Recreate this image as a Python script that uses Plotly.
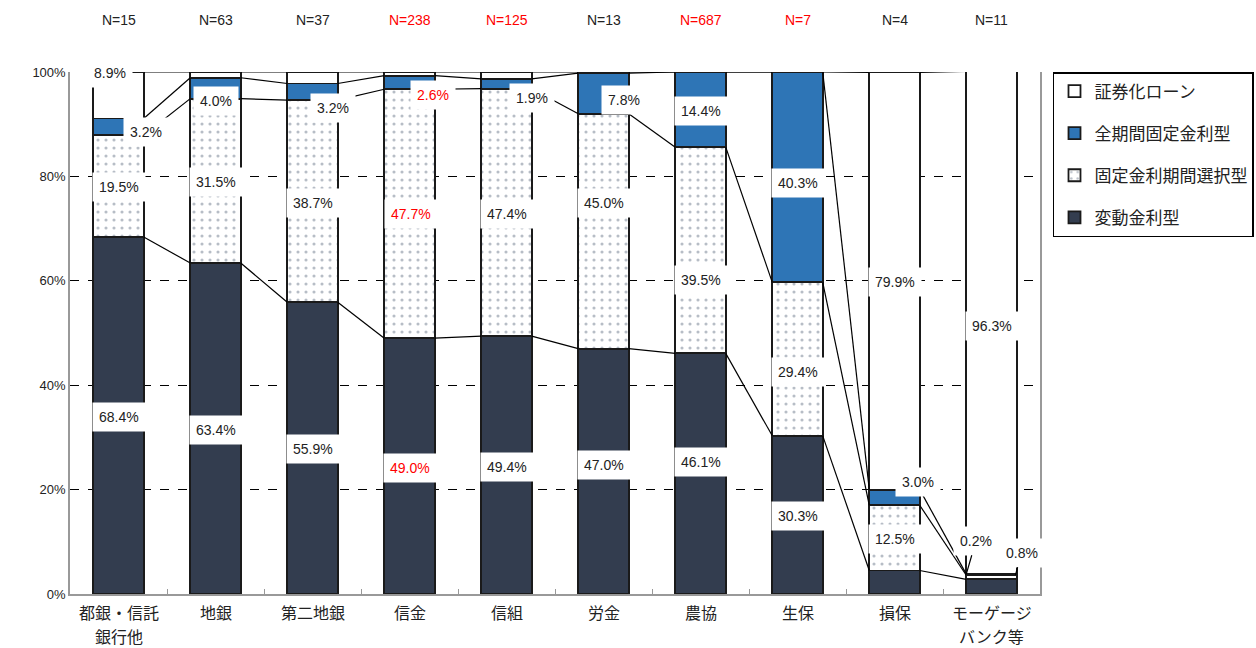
import plotly.graph_objects as go

# ------------------------------------------------------------------
# data
# ------------------------------------------------------------------
categories = ["都銀・信託\n銀行他", "地銀", "第二地銀", "信金", "信組",
              "労金", "農協", "生保", "損保", "モーゲージ\nバンク等"]
n_labels = ["N=15", "N=63", "N=37", "N=238", "N=125",
            "N=13", "N=687", "N=7", "N=4", "N=11"]
n_red = [False, False, False, True, True, False, True, True, False, False]

hendo = [68.4, 63.4, 55.9, 49.0, 49.4, 47.0, 46.1, 30.3, 4.5, 2.8]      # 変動金利型
sentaku = [19.5, 31.5, 38.7, 47.7, 47.4, 45.0, 39.5, 29.4, 12.5, 0.8]  # 固定金利期間選択型
zenkikan = [3.2, 4.0, 3.2, 2.6, 1.9, 7.8, 14.4, 40.3, 3.0, 0.2]       # 全期間固定金利型
shoken = [8.9, 1.1, 2.2, 0.7, 1.3, 0.2, 0.0, 0.0, 79.9, 96.3]         # 証券化ローン
red_idx = {"hendo": [3], "sentaku": [3], "zenkikan": [3], "shoken": []}

y_ticks = [0, 20, 40, 60, 80, 100]

# ------------------------------------------------------------------
# label placement (x offset in categories, y in %), None = no label
# ------------------------------------------------------------------
label_pos = {
    "hendo": [(0, 33.9), (0, 31.4), (0, 27.8), (0, 24.1), (0, 24.3),
              (0, 24.7), (0, 25.3), (0, 14.9), (0.03, -0.8), (0.48, -0.6)],
    "sentaku": [(0, 78.0), (0, 78.9), (0, 74.9), (0.02, 72.8), (0, 72.8),
                (0, 74.9), (0, 60.2), (0, 42.5), (0, 10.5), (0.31, 7.9)],
    "zenkikan": [(0.28, 88.5), (0, 94.4), (0.21, 93.1), (0.24, 95.6), (0.26, 95.0),
                 (0.21, 94.6), (0, 92.5), (0, 78.7), (0.24, 21.5), (-0.16, 10.2)],
    "shoken": [(-0.09, 99.8), (0, 101.9), (0, 101.9), (0, 101.1), (0.01, 101.9),
               (0.39, 100.2), None, None, (0, 59.8), (0, 51.3)],
}
leaders = {("sentaku", 9), ("zenkikan", 9)}

DARK = "#333D4F"
BLUE = "#2E75B6"
EDGE = "#1a1a1a"
TXT = "#222222"
RED = "#FF0000"
NUMFONT = "Liberation Sans, Arial, sans-serif"
JPFONT = "Noto Sans CJK JP, sans-serif"
HW = 0.26  # half bar width

xs = list(range(len(categories)))

fig = go.Figure()
fig.add_trace(go.Bar(x=xs, y=hendo, name="変動金利型", width=2 * HW,
                     marker=dict(color=DARK, line=dict(color=EDGE, width=1.8)),
                     legendgroup="a", legendrank=4))
fig.add_trace(go.Bar(x=xs, y=sentaku, name="固定金利期間選択型", width=2 * HW,
                     marker=dict(color="white", line=dict(color=EDGE, width=1.8),
                                 pattern=dict(shape=".", fgcolor="#6f7c8e", bgcolor="white",
                                              size=8, solidity=0.12)),
                     legendgroup="b", legendrank=3))
fig.add_trace(go.Bar(x=xs, y=zenkikan, name="全期間固定金利型", width=2 * HW,
                     marker=dict(color=BLUE, line=dict(color=EDGE, width=1.8)),
                     legendgroup="c", legendrank=2))
fig.add_trace(go.Bar(x=xs, y=shoken, name="証券化ローン", width=2 * HW,
                     marker=dict(color="white", line=dict(color=EDGE, width=1.8)),
                     legendgroup="d", legendrank=1))

# series lines between neighbouring bars
series = [("hendo", hendo), ("sentaku", sentaku), ("zenkikan", zenkikan), ("shoken", shoken)]
cum = []
run = [0.0] * len(xs)
for key, vals in series:
    run = [r + v for r, v in zip(run, vals)]
    cum.append((key, list(run)))

for key, tops in cum:
    for i in range(len(xs) - 1):
        fig.add_shape(type="line", xref="x", yref="y", layer="above",
                      x0=xs[i] + HW, y0=tops[i], x1=xs[i + 1] - HW, y1=tops[i + 1],
                      line=dict(color="black", width=1.2))

# data labels
tops_by_key = dict(cum)
for key, vals in series:
    for i, v in enumerate(vals):
        pos = label_pos[key][i]
        if pos is None:
            continue
        dx, ly = pos
        color = RED if i in red_idx[key] else TXT
        common = dict(text=f"{v:.1f}%", font=dict(family=NUMFONT, size=14, color=color),
                      bgcolor="white", borderpad=6, xref="x", yref="y")
        if (key, i) in leaders:
            px = xs[i] - HW if dx < 0 else xs[i] + HW * 0.95
            fig.add_annotation(x=px, y=tops_by_key[key][i], ax=xs[i] + dx, ay=ly,
                               axref="x", ayref="y", showarrow=True, arrowhead=0,
                               arrowwidth=1.2, arrowcolor="black", standoff=0,
                               **common)
        else:
            fig.add_annotation(x=xs[i] + dx, y=ly, showarrow=False, **common)

# N counts above the bars
for i, t in enumerate(n_labels):
    fig.add_annotation(x=xs[i], y=1, xref="x", yref="paper", yshift=52, yanchor="middle",
                       text=t, showarrow=False,
                       font=dict(family=NUMFONT, size=14, color=RED if n_red[i] else TXT))

# category names under the axis (one annotation per line, Excel-like spacing)
for i, name in enumerate(categories):
    for k, line in enumerate(name.split("\n")):
        fig.add_annotation(x=xs[i], y=0, xref="x", yref="paper", yshift=-18 - 24 * k,
                           yanchor="middle", text=line, showarrow=False,
                           font=dict(family=JPFONT, size=16, color=TXT))

fig.update_layout(
    width=1256, height=648,
    margin=dict(l=70, r=216, t=72, b=54, autoexpand=False),
    barmode="stack",
    plot_bgcolor="white",
    paper_bgcolor="white",
    showlegend=True,
    legend=dict(x=1.0134, y=1, xanchor="left", yanchor="top",
                traceorder="grouped", tracegroupgap=17,
                bordercolor="black", borderwidth=1.5,
                font=dict(family=JPFONT, size=17, color=TXT)),
)
fig.update_xaxes(range=[-0.5, len(xs) - 0.5], tickmode="array", tickvals=xs,
                 showticklabels=False,
                 ticks="", showgrid=False, showline=True, linecolor="#999999", linewidth=1.5,
                 automargin=False,
                 minor=dict(tickmode="array", tickvals=[x + 0.5 for x in xs[:-1]],
                            ticks="inside", ticklen=5, tickcolor="#999999", showgrid=False))
fig.update_yaxes(range=[0, 100], tickmode="array", tickvals=y_ticks,
                 ticktext=[f"{t}%" for t in y_ticks], automargin=False,
                 showgrid=True, gridcolor="black", griddash="dash", gridwidth=1,
                 zeroline=False, showline=True, linecolor="#999999", linewidth=1.5, mirror=True,
                 tickfont=dict(family=NUMFONT, size=13, color=TXT), ticks="")

fig.write_html("out.html", config={"displayModeBar": False},
               post_script="document.body.style.margin='0';")
